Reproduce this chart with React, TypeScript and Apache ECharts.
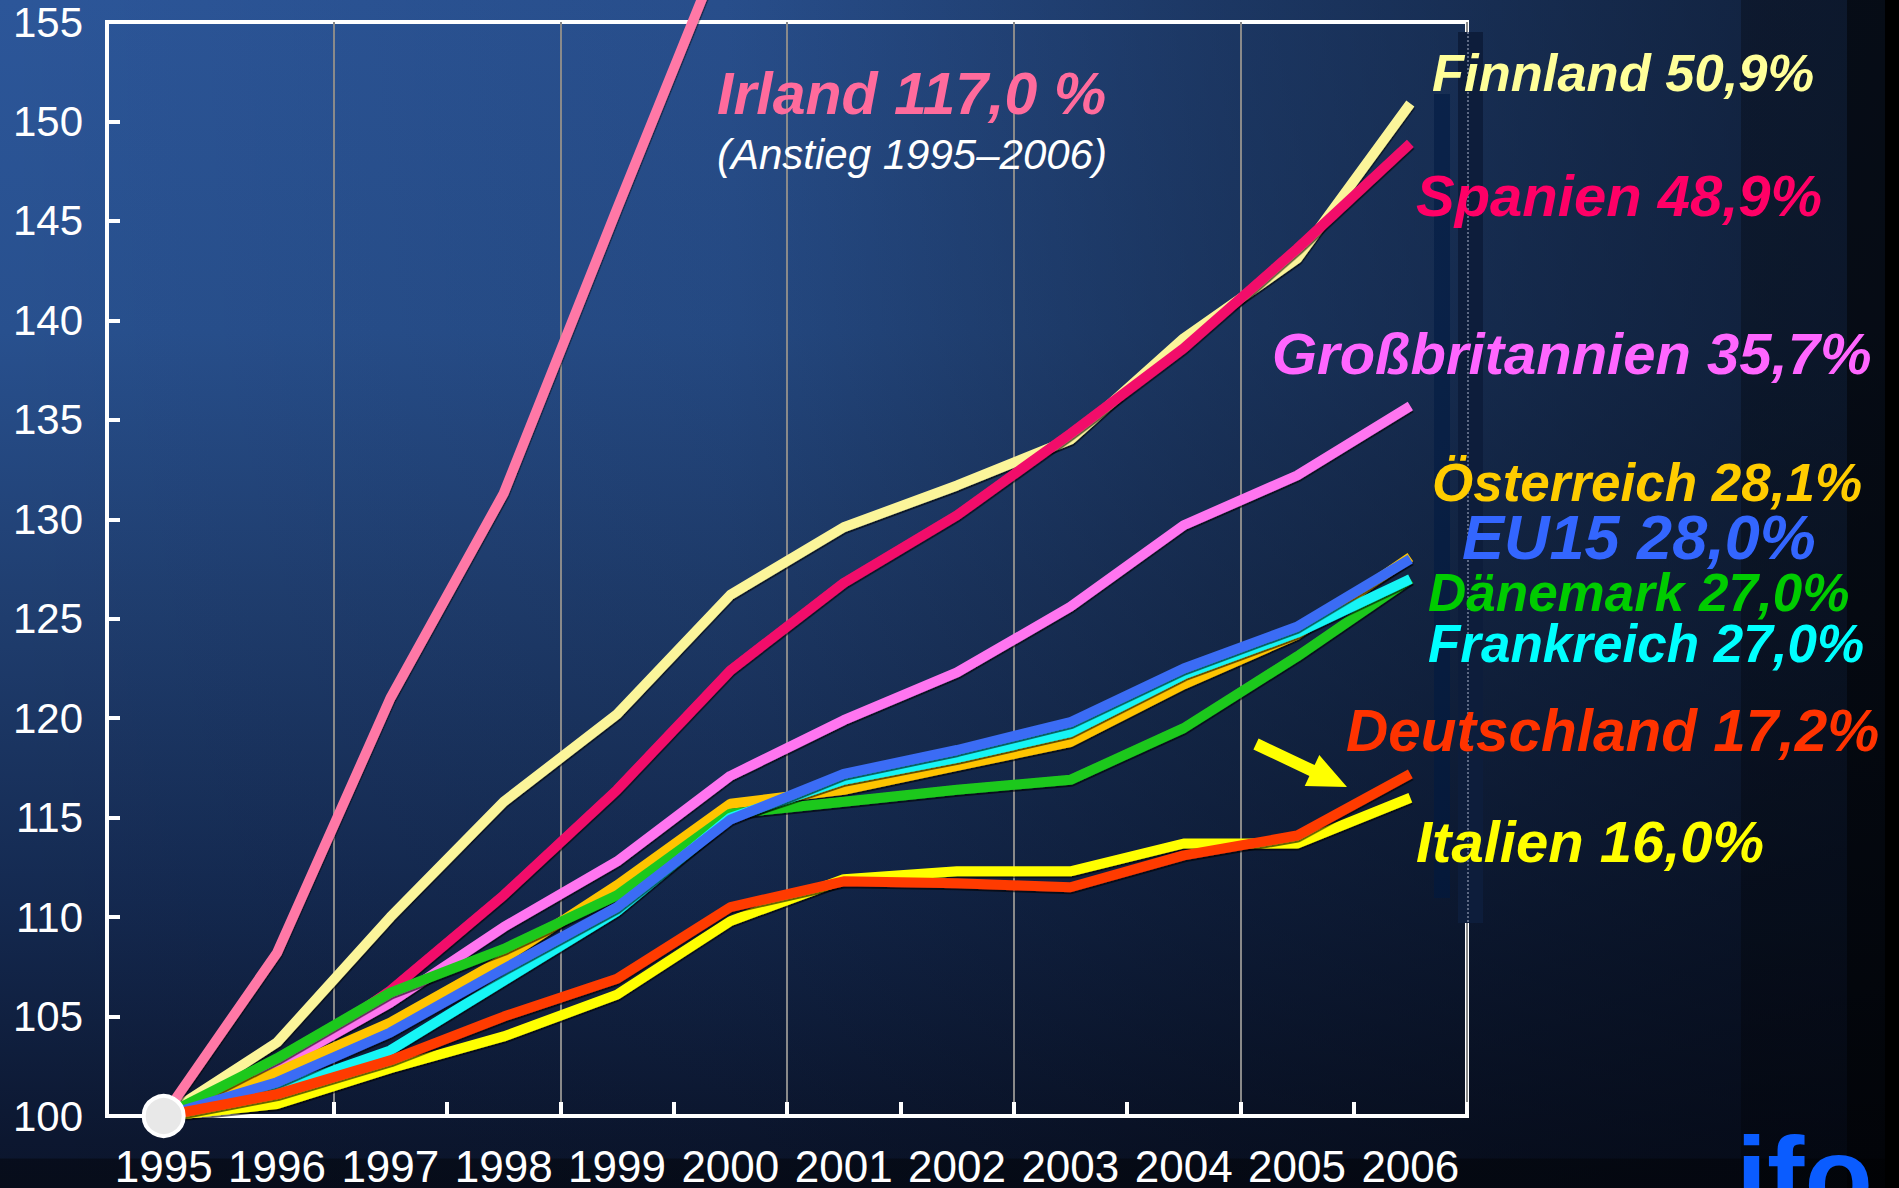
import React, { useEffect, useRef } from "react";
import * as echarts from "echarts";

const years = ["1995", "1996", "1997", "1998", "1999", "2000", "2001", "2002", "2003", "2004", "2005", "2006"];
const yTicks = { min: 100, max: 155, step: 5 };

const irland = [100, 108.2, 121.0, 131.3, 145.6, 159.7, 168.8, 179.8, 187.7, 196.3, 207.9, 217.0];
const finnland = [100, 103.7, 110.0, 115.8, 120.2, 126.2, 129.6, 131.7, 134.0, 139.1, 143.1, 150.9];
const spanien = [100, 102.4, 106.3, 111.1, 116.4, 122.4, 126.8, 130.2, 134.3, 138.6, 143.6, 148.9];
const grossbritannien = [100, 102.5, 105.7, 109.5, 112.8, 117.1, 119.9, 122.3, 125.6, 129.7, 132.2, 135.7];
const oesterreich = [100, 102.2, 104.7, 107.9, 111.6, 115.7, 116.4, 117.6, 118.8, 121.7, 124.2, 128.1];
const daenemark = [100, 102.9, 106.2, 108.4, 111.1, 115.2, 115.8, 116.4, 116.9, 119.5, 123.1, 127.0];
const frankreich = [100, 101.3, 103.3, 106.8, 110.3, 115.0, 116.9, 118.0, 119.3, 122.2, 124.3, 127.0];
const eu15 = [100, 101.7, 104.2, 107.4, 110.5, 114.9, 117.2, 118.4, 119.8, 122.5, 124.6, 128.0];
const italien = [100, 100.6, 102.4, 104.0, 106.1, 109.8, 111.9, 112.3, 112.3, 113.7, 113.7, 116.0];
const deutschland = [100, 101.1, 102.8, 105.0, 106.9, 110.5, 111.8, 111.7, 111.5, 113.1, 114.1, 117.2];

const startPoint = [["1995", 100]];

const FONT = '"Liberation Sans", Arial, Helvetica, sans-serif';

type Lbl = { text: string; color: string; size: number; x: number; y: number };
const labels: Lbl[] = [
  { text: "Finnland 50,9%", color: "#ffff99", size: 52.5, x: 1432, y: 72 },
  { text: "Spanien 48,9%", color: "#ff0066", size: 58, x: 1416, y: 195 },
  { text: "Großbritannien 35,7%", color: "#ff66ff", size: 58, x: 1272, y: 353 },
  { text: "Österreich 28,1%", color: "#ffcc00", size: 53, x: 1432, y: 482 },
  { text: "EU15 28,0%", color: "#3366ff", size: 63, x: 1462, y: 537 },
  { text: "Dänemark 27,0%", color: "#00cc00", size: 53, x: 1428, y: 592 },
  { text: "Frankreich 27,0%", color: "#00ffff", size: 53, x: 1428, y: 643 },
  { text: "Deutschland 17,2%", color: "#ff3300", size: 58.5, x: 1346, y: 730 },
  { text: "Italien 16,0%", color: "#ffff00", size: 58, x: 1416, y: 841 },
];

function lineSeries(name: string, data: number[], color: string, z: number, clip = true) {
  return {
    type: "line",
    name,
    data,
    symbol: "none",
    clip,
    silent: true,
    z,
    lineStyle: {
      color,
      width: 10,
      shadowColor: "rgba(0,0,0,0.6)",
      shadowBlur: 0,
      shadowOffsetX: 0.5,
      shadowOffsetY: 2,
    },
  };
}

export default function App() {
  const ref = useRef<HTMLDivElement>(null);

  useEffect(() => {
    document.body.style.margin = "0";
    document.body.style.overflow = "hidden";
    const chart = echarts.init(ref.current!, undefined, { renderer: "svg" });

    const textEls: any[] = labels.map((l) => ({
      type: "text",
      x: l.x,
      y: l.y,
      z: 100,
      silent: true,
      style: {
        text: l.text,
        fill: l.color,
        font: `italic bold ${l.size}px ${FONT}`,
        lineHeight: Math.round(l.size * 0.8),
        textAlign: "left",
        textVerticalAlign: "middle",
        verticalAlign: "middle",
        shadowColor: "rgba(0,0,0,0.95)",
        shadowBlur: 0,
        shadowOffsetX: 3,
        shadowOffsetY: 3,
      },
    }));

    const option: any = {
      animation: false,
      grid: {
        left: 107,
        right: 1899 - 1467,
        top: 22,
        bottom: 72,
        show: true,
        borderColor: "#ffffff",
        borderWidth: 4,
        containLabel: false,
        outerBoundsMode: "none",
      },
      xAxis: {
        type: "category",
        data: years,
        boundaryGap: true,
        axisLine: { show: true, lineStyle: { color: "#ffffff", width: 4 } },
        axisTick: {
          show: true,
          inside: true,
          length: 14,
          interval: (i: number) => i >= 2,
          lineStyle: { color: "#ffffff", width: 4 },
        },
        axisLabel: {
          color: "#ffffff",
          fontSize: 44,
          lineHeight: 38,
          fontFamily: FONT,
          margin: 31,
          interval: 0,
        },
        splitLine: {
          show: true,
          interval: (i: number) => i > 0 && i % 2 === 0,
          lineStyle: { color: "#8a8a8a", width: 2 },
        },
      },
      yAxis: {
        type: "value",
        min: yTicks.min,
        max: yTicks.max,
        interval: yTicks.step,
        axisLine: { show: true, lineStyle: { color: "#ffffff", width: 4 } },
        axisTick: { show: true, inside: true, length: 13, lineStyle: { color: "#ffffff", width: 4 } },
        axisLabel: { color: "#ffffff", fontSize: 42, fontFamily: FONT, margin: 24 },
        splitLine: { show: false },
      },
      series: [
        lineSeries("Finnland", finnland, "#fbf59a", 3),
        lineSeries("Spanien", spanien, "#f2106a", 4),
        lineSeries("Großbritannien", grossbritannien, "#ff74f0", 5),
        lineSeries("Irland", irland, "#ff78a6", 6, false),
        lineSeries("Österreich", oesterreich, "#ffc400", 7),
        lineSeries("Dänemark", daenemark, "#1ec81e", 8),
        lineSeries("Frankreich", frankreich, "#14f5f5", 9),
        lineSeries("EU15", eu15, "#3a6cf5", 10),
        lineSeries("Italien", italien, "#ffff00", 11),
        lineSeries("Deutschland", deutschland, "#ff3a00", 12),
        {
          type: "scatter",
          data: startPoint,
          symbol: "circle",
          symbolSize: 40,
          silent: true,
          z: 20,
          itemStyle: { color: "#e8e8e8", opacity: 1, borderColor: "#ffffff", borderWidth: 4 },
        },
      ],
      graphic: [
        { type: "rect", z: 50, silent: true, shape: { x: 1434, y: 94, width: 16, height: 804 }, style: { fill: "rgba(0,26,66,0.55)" } },
        { type: "rect", z: 50, silent: true, shape: { x: 1458, y: 32, width: 25, height: 891 }, style: { fill: "#0d1d3b" } },
        {
          type: "line",
          z: 51,
          silent: true,
          shape: { x1: 1468, y1: 32, x2: 1468, y2: 923 },
          style: { stroke: "rgba(190,200,220,0.45)", lineWidth: 2, lineDash: [2, 2] },
        },
        {
          type: "polygon",
          z: 100,
          silent: true,
          shape: {
            points: [
              [1253.4, 749.4],
              [1258.6, 738.6],
              [1314.6, 765.1],
              [1319.3, 755.1],
              [1347, 787],
              [1304.7, 785.9],
              [1309.4, 775.9],
            ],
          },
          style: { fill: "#ffff00" },
        },
        {
          type: "text",
          x: 717,
          y: 94,
          z: 100,
          silent: true,
          style: {
            text: "Irland 117,0 %",
            fill: "#ff6b9c",
            font: `italic bold 59px ${FONT}`,
            lineHeight: 48,
            textAlign: "left",
            textVerticalAlign: "middle",
            verticalAlign: "middle",
            shadowColor: "rgba(0,0,0,0.95)",
            shadowBlur: 0,
            shadowOffsetX: 3,
            shadowOffsetY: 3,
          },
        },
        {
          type: "text",
          x: 717,
          y: 154,
          z: 100,
          silent: true,
          style: {
            text: "(Anstieg 1995–2006)",
            fill: "#ffffff",
            font: `italic 42px ${FONT}`,
            lineHeight: 40,
            textAlign: "left",
            textVerticalAlign: "middle",
            verticalAlign: "middle",
          },
        },
        ...textEls,
        {
          type: "text",
          x: 1736,
          y: 1176,
          z: 100,
          silent: true,
          style: {
            text: "ifo",
            fill: "#0a5cff",
            font: `bold 112px ${FONT}`,
            textAlign: "left",
            textVerticalAlign: "middle",
            verticalAlign: "middle",
          },
        },
      ],
    };

    chart.setOption(option);
    return () => chart.dispose();
  }, []);

  const bg = [
    "linear-gradient(to bottom, rgba(0,0,0,0) 0px, rgba(0,0,0,0) 1158px, rgba(0,0,0,0.4) 1159px, rgba(0,0,0,0.4) 1188px)",
    "linear-gradient(to right, rgba(0,0,0,0) 0px, rgba(0,0,0,0) 1741px, rgba(0,0,0,0.3) 1741px, rgba(0,0,0,0.3) 1847px, rgba(0,0,0,0.65) 1847px, rgba(0,0,0,0.65) 1885px, #000 1885px)",
    "linear-gradient(to right, rgba(3,6,14,0) 0px, rgba(3,6,14,0.1) 727px, rgba(3,6,14,0.38) 1211px, rgba(3,6,14,0.55) 1574px, rgba(3,6,14,0.62) 1741px, rgba(3,6,14,0.65) 1899px)",
    "linear-gradient(to bottom, #2c5699 0%, #28508e 28%, #1f3d6e 52%, #142950 76%, #0c1730 96%, #0b152c 100%)",
  ].join(",");

  return (
    <div
      ref={ref}
      style={{
        position: "absolute",
        left: 0,
        top: 0,
        width: 1899,
        height: 1188,
        background: bg,
      }}
    />
  );
}
